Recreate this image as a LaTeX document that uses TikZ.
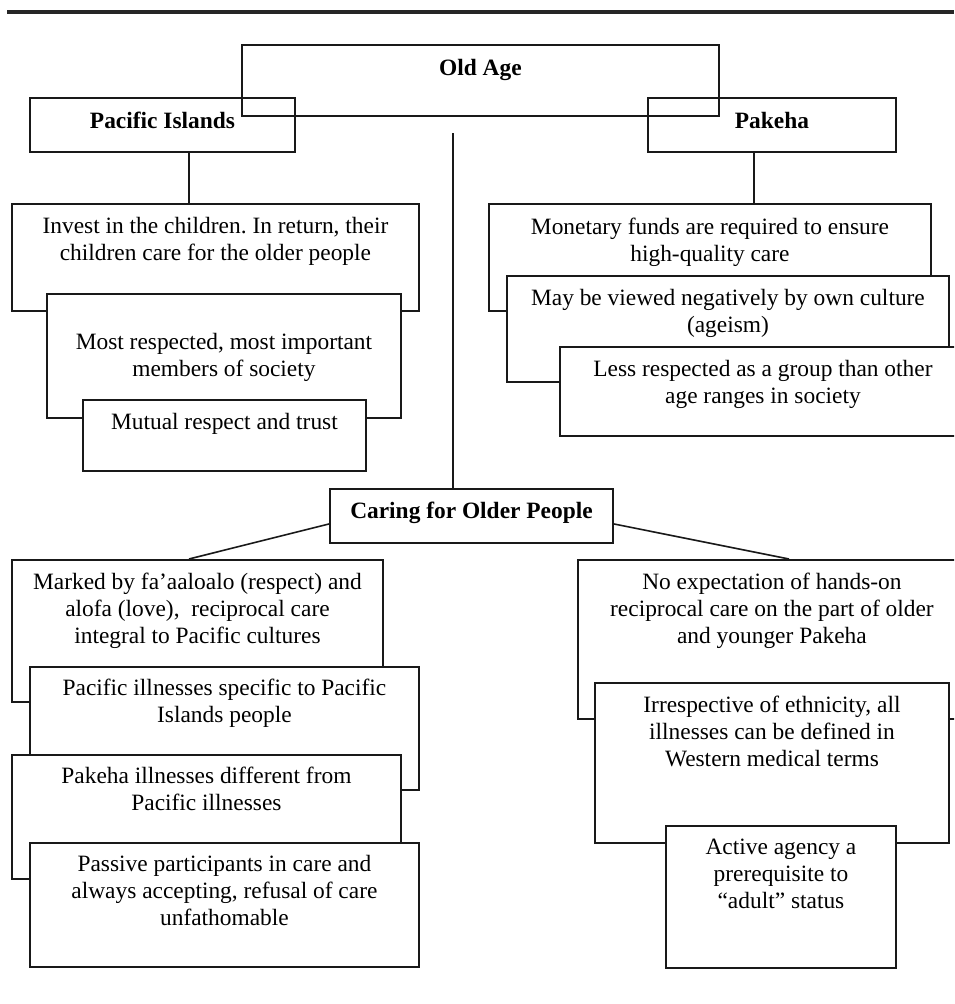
\documentclass[tikz,border=0pt]{standalone}
\usepackage{fontspec}
\setmainfont{Liberation Serif}
\frenchspacing
\newcommand{\boxtext}[4]{\parbox[t][#2][t]{#1}{\centering\vspace*{#3}\strut #4}}

\begin{document}
\begin{tikzpicture}[x=1pt, y=-1pt,
    font=\fontsize{23.4pt}{26.7pt}\selectfont,
    tbox/.style={draw=black!90, line width=1.9pt, inner sep=0pt, anchor=north west},
    sbox/.style={tbox, fill=white},
    link/.style={draw=black!90, line width=1.6pt}]
    \useasboundingbox (0,0) rectangle (954,1004);
    \clip (0,0) rectangle (954,1004);

    \draw[line width=3.2pt, black!85] (7,12) -- (954,12);

    \node[tbox] (oldage) at (241,44) {\boxtext{477pt}{71pt}{12pt}{\textbf{Old Age}}};
    \node[tbox] (pacific) at (29,97) {\boxtext{265pt}{54pt}{12pt}{\textbf{Pacific Islands}}};
    \node[tbox] (pakeha) at (647,97) {\boxtext{248pt}{54pt}{12pt}{\textbf{Pakeha}}};

    \node[sbox] (invest) at (11,203) {\boxtext{407pt}{107pt}{11pt}{Invest in the children. In return, their\\children care for the older people}};
    \node[sbox] (respected) at (46,293) {\boxtext{354pt}{124pt}{37pt}{Most respected, most important\\members of society}};
    \node[sbox] (mutual) at (82,399) {\boxtext{283pt}{71pt}{11pt}{Mutual respect and trust}};

    \node[sbox] (monetary) at (488,203) {\boxtext{442pt}{107pt}{12pt}{Monetary funds are required to ensure\\high-quality care}};
    \node[sbox] (viewed) at (506,275) {\boxtext{442pt}{106pt}{11pt}{May be viewed negatively by own culture\\(ageism)}};
    \node[sbox] (lessresp) at (559,346) {\boxtext{406pt}{89pt}{11pt}{Less respected as a group than other\\age ranges in society}};

    \coordinate (oldfoot) at (453,133);
    \node[tbox] (caring) at (329,488) {\boxtext{283pt}{54pt}{11pt}{\textbf{Caring for Older People}}};

    \node[sbox] (marked) at (11,559) {\boxtext{371pt}{142pt}{11pt}{Marked by fa'aaloalo (respect) and\\alofa (love),~ reciprocal care\\integral to Pacific cultures}};
    \node[sbox] (pacill) at (29,666) {\boxtext{389pt}{123pt}{10pt}{Pacific illnesses specific to Pacific\\Islands people}};
    \node[sbox] (pakill) at (11,754) {\boxtext{389pt}{124pt}{10pt}{Pakeha illnesses different from\\Pacific illnesses}};
    \node[sbox] (passive) at (29,842) {\boxtext{389pt}{124pt}{10pt}{Passive participants in care and\\always accepting, refusal of care\\unfathomable}};

    \node[sbox] (noexp) at (577,559) {\boxtext{388pt}{159pt}{11pt}{No expectation of hands-on\\reciprocal care on the part of older\\and younger Pakeha}};
    \node[sbox] (irresp) at (594,682) {\boxtext{354pt}{160pt}{11pt}{Irrespective of ethnicity, all\\illnesses can be defined in\\Western medical terms}};
    \node[sbox] (active) at (665,825) {\boxtext{230pt}{142pt}{10pt}{Active agency a\\prerequisite to\\``adult'' status}};

    \draw[link] ([xshift=26.5pt]pacific.south) -- ([xshift=26.5pt]pacific.south |- invest.north);
    \draw[link] ([xshift=-18pt]pakeha.south) -- ([xshift=-18pt]pakeha.south |- monetary.north);
    \draw[link] (oldfoot) -- (oldfoot |- caring.north);
    \draw[link] ([yshift=-8pt]caring.west) -- ([xshift=-8.5pt]marked.north);
    \draw[link] ([yshift=-8pt]caring.east) -- ([xshift=17pt]noexp.north);
\end{tikzpicture}
\end{document}
